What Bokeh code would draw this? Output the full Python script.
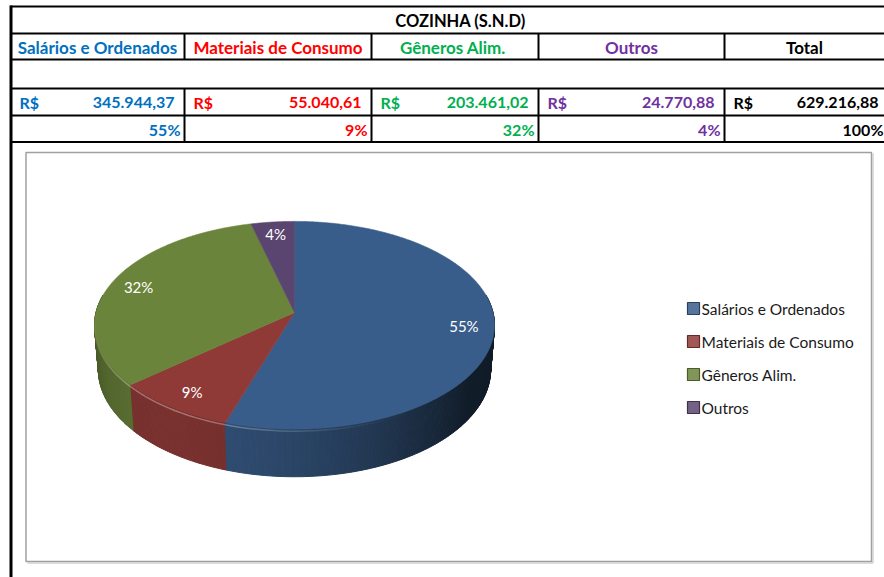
import numpy as np
from bokeh.plotting import figure
from bokeh.models import Range1d, ColumnDataSource
from bokeh.core.properties import value
from bokeh.embed import file_html
from bokeh.resources import INLINE

# ---------------- data ----------------
title = "COZINHA (S.N.D)"
categories = ["Salários e Ordenados", "Materiais de Consumo", "Gêneros  Alim.", "Outros"]
amounts = [345944.37, 55040.61, 203461.02, 24770.88]
currency = "R$"
total_header = "Total"

text_colors = ["#0070C0", "#FF0000", "#00B050", "#7030A0"]
slice_colors = ["#395D8A", "#8F3A37", "#6B843B", "#5A4571"]


def brl(v):
    s = f"{v:,.2f}"
    return s.replace(",", "X").replace(".", ",").replace("X", ".")


total = sum(amounts)
shares = [a / total for a in amounts]
pct_labels = [f"{round(sh * 100):.0f}%" for sh in shares]
amount_labels = [brl(a) for a in amounts]

FONT = "Lato"

# ---------------- figure ----------------
W, H = 884, 577
p = figure(width=W, height=H, x_range=Range1d(0, W), y_range=Range1d(H, 0),
           output_backend="svg", toolbar_location=None, min_border=0,
           x_axis_type=None, y_axis_type=None)
p.grid.visible = False
p.outline_line_color = None
p.background_fill_color = "white"
p.border_fill_color = "white"

# ---------------- table ----------------
col_edges = [10, 184, 371, 538, 724, 886]
row_lines = [6, 33, 59, 88, 115, 141.5]

p.segment(x0=[10] * len(row_lines), x1=[886] * len(row_lines), y0=row_lines, y1=row_lines,
          line_color="black", line_width=2.2)
p.segment(x0=[10.5], x1=[10.5], y0=[5], y1=[577], line_color="black", line_width=3)
seps = col_edges[1:-1]
p.segment(x0=seps, x1=seps, y0=[33] * 4, y1=[59] * 4, line_color="black", line_width=2)
p.segment(x0=seps, x1=seps, y0=[88] * 4, y1=[141.5] * 4, line_color="black", line_width=2)

p.text(x=[460], y=[20.5], text=[title], text_font=value(FONT), text_font_style="bold",
       text_font_size="16.5px", text_color="black", text_align="center", text_baseline="middle")

hdr_x = [(col_edges[i] + col_edges[i + 1]) / 2 for i in range(4)] + [804]
p.text(x=hdr_x, y=[47] * 5, text=categories + [total_header], text_font=value(FONT),
       text_font_style="bold", text_font_size="17px", text_color=text_colors + ["black"],
       text_align="center", text_baseline="middle")

rs_x = [col_edges[i] + 9 for i in range(5)]
p.text(x=rs_x, y=[102] * 5, text=[currency] * 5, text_font=value(FONT), text_font_style="bold",
       text_font_size="16px", text_color=text_colors + ["black"], text_align="left",
       text_baseline="middle")

am_x = [col_edges[i + 1] - 10 for i in range(4)] + [878]
p.text(x=am_x, y=[102] * 5, text=amount_labels + [brl(total)], text_font=value(FONT),
       text_font_style="bold", text_font_size="16px", text_color=text_colors + ["black"],
       text_align="right", text_baseline="middle")

pc_x = [col_edges[i + 1] - 4 for i in range(4)] + [883]
p.text(x=pc_x, y=[129] * 5, text=pct_labels + ["100%"], text_font=value(FONT),
       text_font_style="bold", text_font_size="16px", text_color=text_colors + ["black"],
       text_align="right", text_baseline="middle")

# ---------------- chart box ----------------
p.quad(left=[25.5], right=[871], top=[152], bottom=[561], fill_color="white",
       line_color="#A0A0A0", line_width=1.5)
p.segment(x0=[872.5, 27], x1=[872.5, 872.5], y0=[153, 562.5], y1=[562.5, 562.5],
          line_color="#D0D0D0", line_width=1.5)

# ---------------- 3D pie ----------------
E = np.radians(31)
D = 7.0
S = 198.5
CX, CY = 294.0, 312.0
HT = 0.265


def proj(th, Y, r=1.0):
    th = np.asarray(th, dtype=float)
    X = r * np.sin(th)
    Z = -r * np.cos(th)
    depth = D - Y * np.sin(E) - Z * np.cos(E)
    k = D / depth
    return CX + S * X * k, CY - S * (Y * np.cos(E) - Z * np.sin(E)) * k


def hex2rgb(h):
    h = h.lstrip("#")
    return np.array([int(h[i:i + 2], 16) for i in (0, 2, 4)], dtype=float)


def rgb2hex(c):
    c = np.clip(c, 0, 255).round().astype(int)
    return "#%02x%02x%02x" % tuple(c)


def light(th):
    return max(0.0, np.cos(th - np.radians(215)))


bounds = np.concatenate([[0.0], np.cumsum(shares)]) * 2 * np.pi

# walls
strips = []
lo, hi = np.radians(80), np.radians(280)
for i, col in enumerate(slice_colors):
    a0, a1 = max(bounds[i], lo), min(bounds[i + 1], hi)
    if a1 <= a0:
        continue
    n = max(2, int(np.degrees(a1 - a0) * 1.5))
    ts = np.linspace(a0, a1, n + 1)
    base = hex2rgb(col)
    for t0, t1 in zip(ts[:-1], ts[1:]):
        tm = 0.5 * (t0 + t1)
        f = 0.30 + 0.54 * light(tm) ** 1.1
        xt, yt = proj([t0, t1], 0.0)
        xb, yb = proj([t1, t0], -HT)
        strips.append((-np.cos(tm), list(xt) + list(xb), list(yt) + list(yb), rgb2hex(base * f)))
strips.sort(key=lambda s: s[0])
wall_src = ColumnDataSource(dict(xs=[s[1] for s in strips], ys=[s[2] for s in strips],
                                 c=[s[3] for s in strips]))
p.patches("xs", "ys", source=wall_src, fill_color="c", line_color="c", line_width=1.0)

# top faces
top_xs, top_ys = [], []
for i in range(len(slice_colors)):
    ts = np.linspace(bounds[i], bounds[i + 1], max(3, int(np.degrees(bounds[i + 1] - bounds[i]) * 2)))
    ax, ay = proj(ts, 0.0)
    top_xs.append([CX] + list(ax))
    top_ys.append([CY] + list(ay))
p.patches(top_xs, top_ys, fill_color=slice_colors, line_color=slice_colors, line_width=0.6)

# rim highlight along front edge
hx, hy, hc, ha = [], [], [], []
for i, col in enumerate(slice_colors):
    a0, a1 = max(bounds[i], np.radians(150)), min(bounds[i + 1], np.radians(280))
    if a1 <= a0:
        continue
    n = max(2, int(np.degrees(a1 - a0) / 2))
    ts = np.linspace(a0, a1, n + 1)
    lc = rgb2hex(hex2rgb(col) * 0.55 + 255 * 0.45)
    for t0, t1 in zip(ts[:-1], ts[1:]):
        tm = 0.5 * (t0 + t1)
        xx, yy = proj([t0, t1], -0.012)
        hx.append(list(xx))
        hy.append(list(yy))
        hc.append(lc)
        ha.append(0.7 * light(tm) ** 4)
p.multi_line(xs=hx, ys=hy, line_color=hc, line_alpha=ha, line_width=1.5)

# data labels
mids = 0.5 * (bounds[:-1] + bounds[1:])
lx, ly = proj(mids, 0.0, r=0.85)
p.text(x=list(lx), y=list(ly), text=pct_labels, text_font=value(FONT), text_font_size="15px",
       text_color="white", text_align="center", text_baseline="middle")

# ---------------- legend ----------------
leg_y = [308 + 33 * i for i in range(len(categories))]
leg_fill = [rgb2hex(hex2rgb(c) * 0.85 + 255 * 0.15) for c in slice_colors]
leg_line = [rgb2hex(hex2rgb(c) * 0.7) for c in slice_colors]
p.rect(x=[693] * 4, y=leg_y, width=12, height=12, fill_color=leg_fill, line_color=leg_line,
       line_width=1.2)
p.text(x=[701] * 4, y=leg_y, text=categories, text_font=value(FONT), text_font_size="15.5px",
       text_color="#1a1a1a", text_align="left", text_baseline="middle")

open("out.html", "w").write(file_html(p, INLINE))
